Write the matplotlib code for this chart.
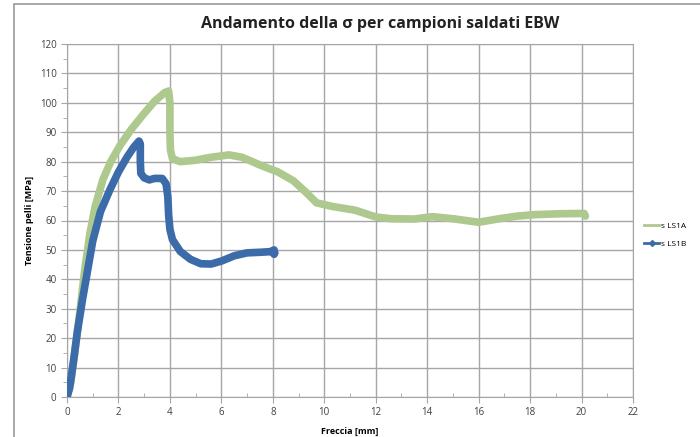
import matplotlib

matplotlib.use("Agg")
import matplotlib.pyplot as plt
from matplotlib.patches import Rectangle
from matplotlib.ticker import MultipleLocator

# deflection [mm] vs stress [MPa], specimen A
freccia_a = [0.0, 0.15, 0.3, 0.5, 0.7, 0.9, 1.1, 1.4, 1.7, 2.06, 2.5, 2.96, 3.4, 3.8, 3.95,
             4.0, 4.0, 4.02, 4.1, 4.4, 5.0, 5.6, 6.3, 6.8, 7.2, 7.6, 8.2, 8.8, 9.3, 9.7,
             10.3, 11.2, 12.0, 12.6, 13.5, 14.2, 15.0, 16.0, 16.8, 17.5, 18.2, 19.2, 20.1, 20.15]
tensione_a = [0.0, 5, 15, 29, 44, 56, 65, 74, 80, 85.5, 91, 96, 100.5, 103.5, 104,
              100, 90, 84, 81, 80, 80.5, 81.5, 82.3, 81.5, 80, 78.5, 76.5, 73.5, 69.5, 66,
              64.8, 63.5, 61.2, 60.6, 60.5, 61.3, 60.6, 59.4, 60.6, 61.5, 62, 62.3, 62.4, 61.5]

# specimen B
freccia_b = [0.0, 0.1, 0.25, 0.4, 0.6, 0.8, 1.0, 1.3, 1.67, 2.0, 2.33, 2.6, 2.8, 2.85, 2.85,
             2.87, 3.0, 3.2, 3.4, 3.7, 3.85, 3.92, 3.95, 4.0, 4.1, 4.4, 4.8, 5.2, 5.6, 6.0,
             6.5, 7.0, 7.5, 7.9, 8.05, 8.05, 8.08]
tensione_b = [0.0, 3, 12, 22, 33, 43, 53, 63, 70.5, 76.5, 81.5, 85, 87, 86, 80,
              76, 74.5, 73.8, 74.3, 74.3, 72.5, 68, 62, 57, 53.5, 49.5, 46.8, 45.3, 45.2, 46.2,
              48, 49, 49.2, 49.4, 50, 48.5, 49]

green = "#adc98e"
blue = "#3b6ba8"
grid_col = "#a6a6a6"

plt.rcParams["font.family"] = ["Open Sans", "DejaVu Sans"]

fig = plt.figure(figsize=(7, 4.37), dpi=100)
fig.patches.append(Rectangle((14 / 700, -0.01), 1.0, 1 - 4 / 437 + 0.01, transform=fig.transFigure,
                             fill=False, edgecolor="#9a9a9a", linewidth=1.2))
ax = fig.add_axes([67 / 700, 40 / 437, 566 / 700, 353 / 437])

ax.plot(freccia_a, tensione_a, color=green, linewidth=5.5, solid_capstyle="round",
        solid_joinstyle="round", zorder=3)
ax.plot(freccia_b, tensione_b, color=blue, linewidth=5.5, solid_capstyle="round",
        solid_joinstyle="round", zorder=4)

ax.set_xlim(0, 22)
ax.set_ylim(0, 120)
ax.xaxis.set_major_locator(MultipleLocator(2))
ax.xaxis.set_minor_locator(MultipleLocator(1))
ax.yaxis.set_major_locator(MultipleLocator(10))
ax.yaxis.set_minor_locator(MultipleLocator(5))
ax.grid(True, which="major", color=grid_col, linewidth=1.0)
ax.set_axisbelow(True)
for s in ax.spines.values():
    s.set_color(grid_col)
ax.tick_params(which="major", labelsize=7, colors="#404040", length=4, color=grid_col)
ax.tick_params(axis="x", which="minor", direction="in", length=3, color=grid_col)
ax.tick_params(axis="y", which="minor", direction="out", length=3, color=grid_col)

ax.set_xlabel("Freccia [mm]", fontsize=6.5, fontweight="bold", labelpad=6)
ax.set_ylabel("Tensione pelli [MPa]", fontsize=6.5, fontweight="bold", labelpad=4)
fig.text(380 / 700, 1 - 24 / 437, "Andamento della σ per campioni saldati EBW", ha="center",
         va="center", fontsize=11.5, fontweight="bold", color="#222222")

leg_a = plt.Line2D([], [], color=green, linewidth=2)
leg_b = plt.Line2D([], [], color=blue, linewidth=2, marker="D", markersize=3)
fig.legend([leg_a, leg_b], ["s LS1A", "s LS1B"], loc="center left",
           bbox_to_anchor=(644 / 700, 1 - 235 / 437), frameon=False, fontsize=6,
           handlelength=1.8, handletextpad=0.2, labelspacing=1.3, borderaxespad=0,
           borderpad=0)

fig.savefig("out.png", dpi=100)
